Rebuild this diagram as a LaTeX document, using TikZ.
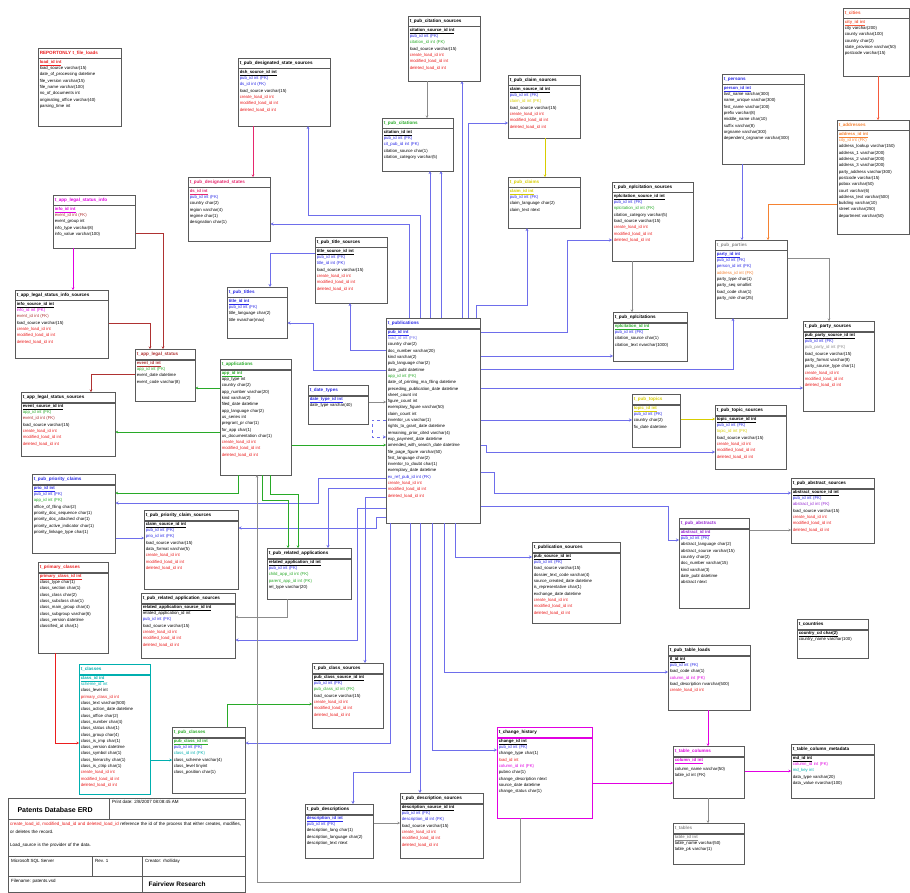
\documentclass[tikz,border=0pt]{standalone}
\usepackage{fontspec}
\setmainfont{Liberation Sans}
\usetikzlibrary{arrows.meta, positioning}
\definecolor{boxline}{RGB}{90,90,90}
\definecolor{fkblue}{RGB}{40,40,230}
\definecolor{fkline}{RGB}{110,110,235}
\definecolor{ldred}{RGB}{235,30,30}
\definecolor{appgreen}{RGB}{40,170,40}
\definecolor{dspink}{RGB}{230,40,110}
\definecolor{tblmagenta}{RGB}{225,0,225}
\definecolor{clscyan}{RGB}{0,175,175}
\definecolor{clmyellow}{RGB}{215,205,0}
\definecolor{addrorange}{RGB}{245,130,50}
\definecolor{cityred}{RGB}{245,90,60}
\definecolor{abspurple}{RGB}{150,40,210}
\definecolor{lsbrown}{RGB}{175,50,50}
\definecolor{gridgray}{RGB}{140,140,140}
\catcode`\_=12
\newcommand{\pkfld}[2][black]{\textcolor{#1}{\textbf{\underline{#2}}}}
\newcommand{\fkfld}[2][fkblue]{\textcolor{#1}{#2}}
\newcommand{\ldfld}[1]{\textcolor{ldred}{#1}}
\newcommand{\loadids}{\ldfld{create_load_id int}\\\ldfld{modified_load_id int}\\\ldfld{deleted_load_id int}}
\tikzset{
  thead/.style={rectangle, draw=boxline, fill=white, anchor=north west, align=left,
                font=\fontsize{4.6}{5.5}\selectfont\bfseries, inner xsep=1.5pt,
                inner ysep=2.25pt, text height=4pt, text depth=1.5pt, line width=0.5pt},
  tbody/.style={rectangle, draw=boxline, fill=white, align=left,
                font=\fontsize{4.3}{6.3}\selectfont, inner xsep=1.5pt, inner ysep=1.5pt,
                line width=0.5pt},
  publink/.style={draw=fkline, line width=0.8pt, -{Stealth[length=3pt,width=3pt]}},
  fklink/.style={line width=0.45pt, -{Stealth[length=2.5pt,width=2.5pt]}},
  small/.style={font=\fontsize{4.5}{6}\selectfont, inner sep=1pt, anchor=north west},
}
\begin{document}
\begin{tikzpicture}[x=1pt, y=-1pt]
  \useasboundingbox (0,0) rectangle (910,893);

  % left column
  \node[thead, text width=80pt, text=ldred] (flh) at (38,48) {REPORTONLY t_file_loads};
  \node[tbody, text width=80pt, text depth=61pt, below=0pt of flh] (fl)
    {\pkfld[ldred]{load_id int}\\load_source varchar(15)\\date_of_processing datetime\\file_version varchar(15)\\file_name varchar(100)\\no_of_documents int\\originating_office varchar(40)\\parsing_time int};

  \node[thead, text width=79pt, text=tblmagenta] (linfoh) at (53,195) {t_app_legal_status_info};
  \node[tbody, text width=79pt, text depth=36pt, below=0pt of linfoh] (linfo)
    {\pkfld[tblmagenta]{info_id int}\\\fkfld[lsbrown]{event_id int (FK)}\\event_group int\\info_type varchar(8)\\info_value varchar(100)};

  \node[thead, text width=90pt] (lisrch) at (15,290) {t_app_legal_status_info_sources};
  \node[tbody, text width=90pt, text depth=51pt, below=0pt of lisrch] (lisrc)
    {\pkfld{info_source_id int}\\\fkfld[tblmagenta]{info_id int (FK)}\\\fkfld[lsbrown]{event_id int (FK)}\\load_source varchar(15)\\\loadids};

  \node[thead, text width=57pt, text=lsbrown] (lstath) at (135,349) {t_app_legal_status};
  \node[tbody, text width=57pt, text depth=35pt, below=0pt of lstath] (lstat)
    {\pkfld[lsbrown]{event_id int}\\\fkfld[appgreen]{app_id int (FK)}\\event_date datetime\\event_code varchar(8)};

  \node[thead, text width=91pt] (lssrch) at (21,392) {t_app_legal_status_sources};
  \node[tbody, text width=91pt, text depth=47pt, below=0pt of lssrch] (lssrc)
    {\pkfld{event_source_id int}\\\fkfld[appgreen]{app_id int (FK)}\\\fkfld[lsbrown]{event_id int (FK)}\\load_source varchar(15)\\\loadids};

  \node[thead, text width=80pt, text=fkblue] (prioh) at (32,474) {t_pub_priority_claims};
  \node[tbody, text width=80pt, text depth=62pt, below=0pt of prioh] (prio)
    {\pkfld[fkblue]{prio_id int}\\\fkfld{pub_id int (FK)}\\\fkfld[appgreen]{app_id int (FK)}\\office_of_filing char(2)\\priority_doc_sequence char(1)\\priority_doc_attached char(1)\\priority_active_indicator char(1)\\priority_linkage_type char(1)};

  \node[thead, text width=91pt] (priosrch) at (144,510) {t_pub_priority_claim_sources};
  \node[tbody, text width=91pt, text depth=62pt, below=0pt of priosrch] (priosrc)
    {\pkfld{claim_source_id int}\\\fkfld{pub_id int (FK)}\\\fkfld{prio_id int (FK)}\\load_source varchar(15)\\data_format varchar(5)\\\loadids};

  \node[thead, text width=67pt, text=ldred] (primh) at (38,562) {t_primary_classes};
  \node[tbody, text width=67pt, text depth=74pt, below=0pt of primh] (prim)
    {\pkfld[ldred]{primary_class_id int}\\class_type char(1)\\class_section char(1)\\class_class char(2)\\class_subclass char(1)\\class_main_group char(4)\\class_subgroup varchar(6)\\class_version datetime\\classified_at char(1)};

  \node[thead, text width=91pt] (rasrch) at (141,593) {t_pub_related_application_sources};
  \node[tbody, text width=91pt, text depth=48pt, below=0pt of rasrch] (rasrc)
    {\pkfld{related_application_source_id int}\\related_application_id int\\\fkfld{pub_id int (FK)}\\load_source varchar(15)\\\loadids};

  \node[thead, text width=68pt, text=clscyan, draw=clscyan] (clsh) at (79,664) {t_classes};
  \node[tbody, text width=68pt, text depth=113pt, draw=clscyan, below=0pt of clsh] (cls)
    {\pkfld[clscyan]{class_id int}\\\fkfld[clscyan]{scheme_id int}\\class_level int\\\fkfld[ldred]{primary_class_id int}\\class_text varchar(500)\\class_action_date datetime\\class_office char(2)\\class_number char(4)\\class_status char(1)\\class_group char(4)\\class_is_imp char(1)\\class_version datetime\\class_symbol char(1)\\class_hierarchy char(1)\\class_is_ctrip char(1)\\\loadids};

  \node[thead, text width=70pt, text=appgreen] (pclsh) at (172,727) {t_pub_classes};
  \node[tbody, text width=70pt, text depth=49pt, below=0pt of pclsh] (pcls)
    {\pkfld[appgreen]{pub_class_id int}\\\fkfld{pub_id int (FK)}\\\fkfld[clscyan]{class_id int (FK)}\\class_scheme varchar(4)\\class_level tinyint\\class_position char(1)};

  % middle column
  \node[thead, text width=89pt] (dssh) at (238,58) {t_pub_designated_state_sources};
  \node[tbody, text width=89pt, text depth=51pt, below=0pt of dssh] (dss)
    {\pkfld{dsh_source_id int}\\\fkfld{pub_id int (FK)}\\\fkfld{ds_id int (FK)}\\load_source varchar(15)\\\loadids};

  \node[thead, text width=79pt, text=dspink] (dsh) at (188,177) {t_pub_designated_states};
  \node[tbody, text width=79pt, text depth=47pt, below=0pt of dsh] (ds)
    {\pkfld[dspink]{ds_id int}\\\fkfld{pub_id int (FK)}\\country char(2)\\region varchar(4)\\regime char(1)\\designation char(1)};

  \node[thead, text width=57pt, text=fkblue] (ttlh) at (227,287) {t_pub_titles};
  \node[tbody, text width=57pt, text depth=34pt, below=0pt of ttlh] (ttl)
    {\pkfld[fkblue]{title_id int}\\\fkfld{pub_id int (FK)}\\title_language char(2)\\title nvarchar(max)};

  \node[thead, text width=69pt] (ttlsrch) at (315,237) {t_pub_title_sources};
  \node[tbody, text width=69pt, text depth=49pt, below=0pt of ttlsrch] (ttlsrc)
    {\pkfld{title_source_id int}\\\fkfld{pub_id int (FK)}\\\fkfld{title_id int (FK)}\\load_source varchar(15)\\\loadids};

  \node[thead, text width=68pt, text=appgreen] (apph) at (220,359) {t_applications};
  \node[tbody, text width=68pt, text depth=99pt, below=0pt of apph] (app)
    {\pkfld[appgreen]{app_id int}\\app_type int\\country char(2)\\app_number varchar(20)\\kind varchar(2)\\filed_date datetime\\app_language char(2)\\us_series int\\pregrant_pr char(1)\\for_app char(1)\\us_documentation char(1)\\\loadids};

  \node[thead, text width=57pt, text=fkblue] (dtypeh) at (308,385) {t_date_types};
  \node[tbody, text width=57pt, text depth=22pt, below=0pt of dtypeh] (dtype)
    {\pkfld[fkblue]{date_type_id int}\\date_type varchar(40)};

  \node[thead, text width=81pt] (rapph) at (267,548) {t_pub_related_applications};
  \node[tbody, text width=81pt, text depth=34pt, below=0pt of rapph] (rapp)
    {\pkfld{related_application_id int}\\\fkfld{pub_id int (FK)}\\\fkfld[appgreen]{child_app_id int (FK)}\\\fkfld[appgreen]{parent_app_id int (FK)}\\rel_type varchar(20)};

  \node[thead, text width=68pt] (clssrch) at (312,663) {t_pub_class_sources};
  \node[tbody, text width=68pt, text depth=48pt, below=0pt of clssrch] (clssrc)
    {\pkfld{pub_class_source_id int}\\\fkfld{pub_id int (FK)}\\\fkfld[appgreen]{pub_class_id int (FK)}\\load_source varchar(15)\\\loadids};

  \node[thead, text width=65pt] (desch) at (305,804) {t_pub_descriptions};
  \node[tbody, text width=65pt, text depth=37pt, below=0pt of desch] (desc)
    {\pkfld[fkblue]{description_id int}\\\fkfld{pub_id int (FK)}\\description_lang char(1)\\description_language char(2)\\description_text ntext};

  \node[thead, text width=80pt] (descsrch) at (400,793) {t_pub_description_sources};
  \node[tbody, text width=80pt, text depth=48pt, below=0pt of descsrch] (descsrc)
    {\pkfld{description_source_id int}\\\fkfld{pub_id int (FK)}\\\fkfld{description_id int (FK)}\\load_source varchar(15)\\\loadids};

  \node[thead, text width=69pt] (citsrch) at (408,16) {t_pub_citation_sources};
  \node[tbody, text width=69pt, text depth=48pt, below=0pt of citsrch] (citsrc)
    {\pkfld{citation_source_id int}\\\fkfld{pub_id int (FK)}\\\fkfld[appgreen]{citation_id int (FK)}\\load_source varchar(15)\\\loadids};

  \node[thead, text width=68pt, text=appgreen] (cith) at (382,118) {t_pub_citations};
  \node[tbody, text width=68pt, text depth=36pt, below=0pt of cith] (cit)
    {\pkfld{citation_id int}\\\fkfld{pub_id int (FK)}\\\fkfld{cit_pub_id int (FK)}\\citation_source char(1)\\citation_category varchar(5)};

  \node[thead, text width=91pt, text=fkblue] (pubh) at (386,318) {t_publications};
  \node[tbody, text width=91pt, text depth=188pt, below=0pt of pubh] (pub)
    {\pkfld[fkblue]{pub_id int}\\\fkfld[fkline]{load_id int (FK)}\\country char(2)\\doc_number varchar(20)\\kind varchar(2)\\pub_language char(2)\\date_publ datetime\\\fkfld[appgreen]{app_id int (FK)}\\date_of_printing_ma_filing datetime\\preceding_publication_date datetime\\sheet_count int\\figure_count int\\exemplary_figure varchar(50)\\claim_count int\\inventor_us varchar(1)\\rights_to_grant_date datetime\\remaining_prior_cited varchar(4)\\exp_payment_date datetime\\amended_with_search_date datetime\\file_page_figure varchar(50)\\first_language char(2)\\inventor_to_doubt char(1)\\exemplary_date datetime\\\fkfld{ex_ref_pub_id int (FK)}\\\loadids};

  \node[thead, text width=69pt] (clmsrch) at (508,75) {t_pub_claim_sources};
  \node[tbody, text width=69pt, text depth=46pt, below=0pt of clmsrch] (clmsrc)
    {\pkfld{claim_source_id int}\\\fkfld{pub_id int (FK)}\\\fkfld[clmyellow]{claim_id int (FK)}\\load_source varchar(15)\\\loadids};

  \node[thead, text width=69pt, text=clmyellow] (clmh) at (508,177) {t_pub_claims};
  \node[tbody, text width=69pt, text depth=34pt, below=0pt of clmh] (clm)
    {\pkfld[clmyellow]{claim_id int}\\\fkfld{pub_id int (FK)}\\claim_language char(2)\\claim_text ntext};

  \node[thead, text width=85pt] (pubsrch) at (532,542) {t_publication_sources};
  \node[tbody, text width=85pt, text depth=64pt, below=0pt of pubsrch] (pubsrc)
    {\pkfld{pub_source_id int}\\\fkfld{pub_id int (FK)}\\load_source varchar(15)\\dossier_text_code varchar(4)\\source_created_date datetime\\is_representative char(1)\\exchange_date datetime\\\loadids};

  \node[thead, text width=92pt, draw=tblmagenta] (chgh) at (497,727) {t_change_history};
  \node[tbody, text width=92pt, text depth=74pt, draw=tblmagenta, below=0pt of chgh] (chg)
    {\pkfld{change_id int}\\\fkfld{pub_id int (FK)}\\change_type char(1)\\\ldfld{load_id int}\\\fkfld[tblmagenta]{column_id int (FK)}\\pubno char(1)\\change_description ntext\\source_date datetime\\change_status char(1)};

  % right column
  \node[thead, text width=63pt, text=cityred] (cityh) at (843,8) {t_cities};
  \node[tbody, text width=63pt, text depth=51pt, below=0pt of cityh] (city)
    {\pkfld[cityred]{city_id int}\\city varchar(200)\\county varchar(100)\\country char(2)\\state_province varchar(50)\\postcode varchar(15)};

  \node[thead, text width=79pt, text=fkblue] (perh) at (722,74) {t_persons};
  \node[tbody, text width=79pt, text depth=73pt, below=0pt of perh] (per)
    {\pkfld[fkblue]{person_id int}\\last_name varchar(300)\\name_unique varchar(300)\\first_name varchar(100)\\prefix varchar(8)\\middle_name char(10)\\suffix varchar(8)\\orgname varchar(300)\\dependent_orgname varchar(300)};

  \node[thead, text width=69pt, text=addrorange] (addrh) at (837,120) {t_addresses};
  \node[tbody, text width=69pt, text depth=97pt, below=0pt of addrh] (addr)
    {\pkfld[addrorange]{address_id int}\\\fkfld[addrorange]{city_id int (FK)}\\address_lookup varchar(150)\\address_1 varchar(200)\\address_2 varchar(200)\\address_3 varchar(200)\\party_address varchar(300)\\postcode varchar(15)\\pobox varchar(50)\\court varchar(6)\\address_text varchar(500)\\building varchar(10)\\street varchar(250)\\department varchar(50)};

  \node[thead, text width=78pt] (nplsrch) at (612,182) {t_pub_nplcitation_sources};
  \node[tbody, text width=78pt, text depth=62pt, below=0pt of nplsrch] (nplsrc)
    {\pkfld{nplcitation_source_id int}\\\fkfld{pub_id int (FK)}\\\fkfld[appgreen]{nplcitation_id int (FK)}\\citation_category varchar(5)\\load_source varchar(15)\\\loadids};

  \node[thead, text width=71pt] (nplh) at (613,312) {t_pub_nplcitations};
  \node[tbody, text width=71pt, text depth=32pt, below=0pt of nplh] (npl)
    {\pkfld[appgreen]{nplcitation_id int}\\\fkfld{pub_id int (FK)}\\citation_source char(1)\\citation_text nvarchar(1000)};

  \node[thead, text width=69pt, text=gridgray] (partyh) at (715,240) {t_pub_parties};
  \node[tbody, text width=69pt, text depth=61pt, below=0pt of partyh] (party)
    {\pkfld[fkblue]{party_id int}\\\fkfld{pub_id int (FK)}\\\fkfld{person_id int (FK)}\\\fkfld[addrorange]{address_id int (FK)}\\party_type char(1)\\party_seq smallint\\load_code char(1)\\party_role char(25)};

  \node[thead, text width=68pt] (partysrch) at (803,321) {t_pub_party_sources};
  \node[tbody, text width=68pt, text depth=73pt, below=0pt of partysrch] (partysrc)
    {\pkfld{pub_party_source_id int}\\\fkfld{pub_id int (FK)}\\\fkfld[gridgray]{pub_party_id int (FK)}\\load_source varchar(15)\\party_format varchar(8)\\party_source_type char(1)\\\loadids};

  \node[thead, text width=45pt, text=clmyellow] (topich) at (632,394) {t_pub_topics};
  \node[tbody, text width=45pt, text depth=36pt, below=0pt of topich] (topic)
    {\pkfld[clmyellow]{topic_id int}\\\fkfld{pub_id int (FK)}\\country char(2)\\fix_date datetime};

  \node[thead, text width=68pt] (topicsrch) at (715,405) {t_pub_topic_sources};
  \node[tbody, text width=68pt, text depth=47pt, below=0pt of topicsrch] (topicsrc)
    {\pkfld{topic_source_id int}\\\fkfld{pub_id int (FK)}\\\fkfld[clmyellow]{topic_id int (FK)}\\load_source varchar(15)\\\loadids};

  \node[thead, text width=80pt] (abssrch) at (791,478) {t_pub_abstract_sources};
  \node[tbody, text width=80pt, text depth=48pt, below=0pt of abssrch] (abssrc)
    {\pkfld{abstract_source_id int}\\\fkfld{pub_id int (FK)}\\\fkfld[abspurple]{abstract_id int (FK)}\\load_source varchar(15)\\\loadids};

  \node[thead, text width=67pt, text=abspurple] (absh) at (679,518) {t_pub_abstracts};
  \node[tbody, text width=67pt, text depth=73pt, below=0pt of absh] (abs)
    {\pkfld[abspurple]{abstract_id int}\\\fkfld{pub_id int (FK)}\\abstract_language char(2)\\abstract_source varchar(15)\\country char(2)\\doc_number varchar(15)\\kind varchar(3)\\date_publ datetime\\abstract ntext};

  \node[thead, text width=68pt] (ctryh) at (797,619) {t_countries};
  \node[tbody, text width=68pt, text depth=22pt, below=0pt of ctryh] (ctry)
    {\pkfld{country_cd char(2)}\\country_name varchar(100)};

  \node[thead, text width=79pt] (tloadh) at (668,645) {t_pub_table_loads};
  \node[tbody, text width=79pt, text depth=48pt, below=0pt of tloadh] (tload)
    {\pkfld{tl_id int}\\\fkfld{pub_id int (FK)}\\load_code char(1)\\\fkfld[tblmagenta]{column_id int (FK)}\\load_description nvarchar(500)\\\ldfld{create_load_id int}};

  \node[thead, text width=68pt, text=tblmagenta] (tcolh) at (673,746) {t_table_columns};
  \node[tbody, text width=68pt, text depth=35pt, below=0pt of tcolh] (tcol)
    {\pkfld[tblmagenta]{column_id int}\\[3pt]column_name varchar(50)\\table_id int (FK)};

  \node[thead, text width=80pt] (tmetah) at (791,744) {t_table_column_metadata};
  \node[tbody, text width=80pt, text depth=37pt, below=0pt of tmetah] (tmeta)
    {\pkfld{md_id int}\\\fkfld[tblmagenta]{column_id int (FK)}\\\fkfld[clscyan]{md_key int}\\data_type varchar(20)\\data_value nvarchar(100)};

  \node[thead, text width=68pt, text=gridgray] (tblh) at (673,823) {t_tables};
  \node[tbody, text width=68pt, text depth=24pt, below=0pt of tblh] (tbl)
    {\pkfld[gridgray]{table_id int}\\table_name varchar(50)\\table_pk varchar(1)};

  % links from t_publications
  \draw[publink] (pubh.north -| 420,0) |- (308,215) -- (308,0 |- dss.south);
  \draw[publink] (pubh.north -| 409,0) |- (ds.east |- 0,224);
  \draw[publink] (pub.west |- 0,370) -| (313,323) -- (ttl.east |- 0,323);
  \draw[publink] (pub.west |- 0,350) -| (ttlsrc.south -| 350,0);
  \draw[publink] (ttlsrc.west |- 0,253) -| (ttlh.north -| 270,0);
  \draw[publink] (pubh.north -| 462,0) -- (citsrc.south -| 462,0);
  \draw[publink] (pubh.north -| 430,0) -- (cit.south -| 430,0);
  \draw[publink] (pubh.north -| 441,0) -- (cit.south -| 441,0);
  \draw[publink] (pubh.north -| 468,0) |- (clmsrc.west |- 0,123);
  \draw[publink] (pubh.north -| 476,0) |- (527,305) -- (clm.south -| 527,0);
  \draw[publink] (pub.east |- 0,332) -| (567,240) -- (nplsrc.west |- 0,240);
  \draw[publink] (pub.east |- 0,356) -- (npl.west |- 0,356);
  \draw[publink] (pub.east |- 0,369) -| (party.south -| 733,0);
  \draw[publink] (pub.east |- 0,388) -- (partysrc.west |- 0,388);
  \draw[publink] (pub.east |- 0,420) -- (topic.west |- 0,420);
  \draw[publink] (pub.east |- 0,445) -| (486,452) -- (topicsrc.west |- 0,452);
  \draw[publink] (pub.east |- 0,472) -| (494,493) -- (abssrc.west |- 0,493);
  \draw[publink] (pub.east |- 0,506) -| (668,540) -- (abs.west |- 0,540);
  \draw[publink] (pub.south -| 455,0) |- (pubsrc.west |- 0,557);
  \draw[publink] (pub.south -| 444,0) |- (tload.west |- 0,672);
  \draw[publink] (pub.south -| 432,0) |- (chg.west |- 0,750);
  \draw[publink] (pub.south -| 420,0) -- (descsrch.north -| 420,0);
  \draw[publink] (pub.south -| 410,0) |- (353,772) -- (desch.north -| 353,0);
  \draw[publink] (pub.south -| 390,0) |- (pcls.east |- 0,743);
  \draw[publink] (pub.west |- 0,497) -| (clssrch.north -| 365,0);
  \draw[publink] (pub.west |- 0,488) -| (rapph.north -| 328,0);
  \draw[publink] (pub.west |- 0,508) -| (357,640) -- (rasrc.east |- 0,640);
  \draw[publink] (pub.west |- 0,478) -| (318,503) -- (prio.east |- 0,503);
  \draw[publink] (pub.west |- 0,517) -| (376,528) -- (priosrc.east |- 0,528);
  \draw[publink, dashed] (pub.west |- 0,420) -| (372,437) -- (pub.west |- 0,437);
  \draw[fklink, gridgray] (dtype.east |- 0,402) -- (pub.west |- 0,402);

  % application links
  \draw[fklink, appgreen] (app.east |- 0,445) -- (pub.west |- 0,445);
  \draw[fklink, appgreen] (app.west |- 0,388) -- (lstat.east |- 0,388);
  \draw[fklink, appgreen] (app.west |- 0,432) -- (lssrc.east |- 0,432);
  \draw[fklink, appgreen] (app.south -| 238,0) |- (prio.east |- 0,493);
  \draw[fklink, appgreen] (app.south -| 262,0) |- (288,500) -- (rapph.north -| 288,0);
  \draw[fklink, appgreen] (app.south -| 270,0) |- (298,494) -- (rapph.north -| 298,0);
  \draw[fklink, appgreen] (pclsh.north -| 227,0) |- (clssrc.west |- 0,704);

  % other links
  \draw[fklink, lsbrown] (lstat.west |- 0,374) -| (lssrch.north -| 91,0);
  \draw[fklink, lsbrown] (linfo.east |- 0,233) -| (lstath.north -| 163,0);
  \draw[fklink, lsbrown] (lisrc.east |- 0,323) -| (lstath.north -| 150,0);
  \draw[fklink, tblmagenta] (linfo.south -| 73,0) -- (lisrch.north -| 73,0);
  \draw[fklink, dspink] (dss.south -| 253,0) -- (dsh.north -| 253,0);
  \draw[fklink, ldred] (prim.south -| 55,0) |- (cls.west |- 0,743);
  \draw[fklink, clscyan] (cls.east |- 0,760) -- (pcls.west |- 0,760);
  \draw[fklink, fkline] (per.south -| 742,0) -- (partyh.north -| 742,0);
  \draw[fklink, cityred] (city.south -| 878,0) -- (addrh.north -| 878,0);
  \draw[fklink, addrorange] (addr.west |- 0,204) -| (partyh.north -| 768,0);
  \draw[fklink, gridgray] (party.east |- 0,258) -| (partysrch.north -| 829,0);
  \draw[fklink, clmyellow] (topic.east |- 0,419) -- (topicsrc.west |- 0,419);
  \draw[fklink, gridgray] (abs.east |- 0,530) -- (abssrc.west |- 0,530);
  \draw[fklink, clmyellow] (clmsrc.south -| 545,0) -- (clmh.north -| 545,0);
  \draw[fklink, gridgray] (nplsrc.south -| 632,0) -- (nplh.north -| 632,0);
  \draw[fklink, tblmagenta] (tload.south -| 708,0) -- (tcolh.north -| 708,0);
  \draw[fklink, tblmagenta] (tcol.east |- 0,771) -- (tmeta.west |- 0,771);
  \draw[fklink, gridgray] (tcol.south -| 708,0) -- (tblh.north -| 708,0);
  \draw[fklink, tblmagenta] (chg.east |- 0,783) -- (tcol.west |- 0,783);
  \draw[fklink, gridgray] (desc.east |- 0,823) -- (descsrc.west |- 0,823);
  \draw[fklink, gridgray] (rapp.south -| 287,0) |- (rasrc.east |- 0,617);
  \draw[fklink, fkline] (prio.east |- 0,538) -- (priosrc.west |- 0,538);
  \draw[fklink, gridgray] (citsrc.south -| 427,0) -- (cith.north -| 427,0);
  \draw[fklink, gridgray] (chg.south -| 520,0) |- (257,882) -- (app.south -| 257,0);

  % title block
  \draw[boxline, line width=0.6pt, fill=white] (8,798) rectangle (245,892);
  \draw[boxline, line width=0.5pt] (8,819) -- (245,819) (109,798) -- (109,819)
    (8,856) -- (245,856) (8,876) -- (245,876) (92,856) -- (92,876) (142,856) -- (142,892);
  \node[font=\fontsize{7}{8}\selectfont\bfseries, anchor=west] (erdtitle) at (14,810) {Patents Database ERD};
  \node[small] (erddate) at (111,799) {Print date: 2/8/2007 08:08:45 AM};
  \node[small, text width=232pt, font=\fontsize{4.5}{8.5}\selectfont] (erdnote) at (9,821)
    {\textcolor{ldred}{create_load_id, modified_load_id and deleted_load_id} reference the id of the process that either creates, modifies, or deletes the record.\\[4pt]Load_source is the provider of the data.};
  \node[small] (erddbms) at (10,858) {Microsoft SQL Server};
  \node[small] (erdrev) at (94,858) {Rev. 1};
  \node[small] (erdcreator) at (144,858) {Creator: rholliday};
  \node[small] (erdfile) at (10,878) {Filename: patents.vsd};
  \node[font=\fontsize{6.5}{8}\selectfont\bfseries, anchor=west] (erdorg) at (145,884) {Fairview Research};
\end{tikzpicture}
\end{document}
